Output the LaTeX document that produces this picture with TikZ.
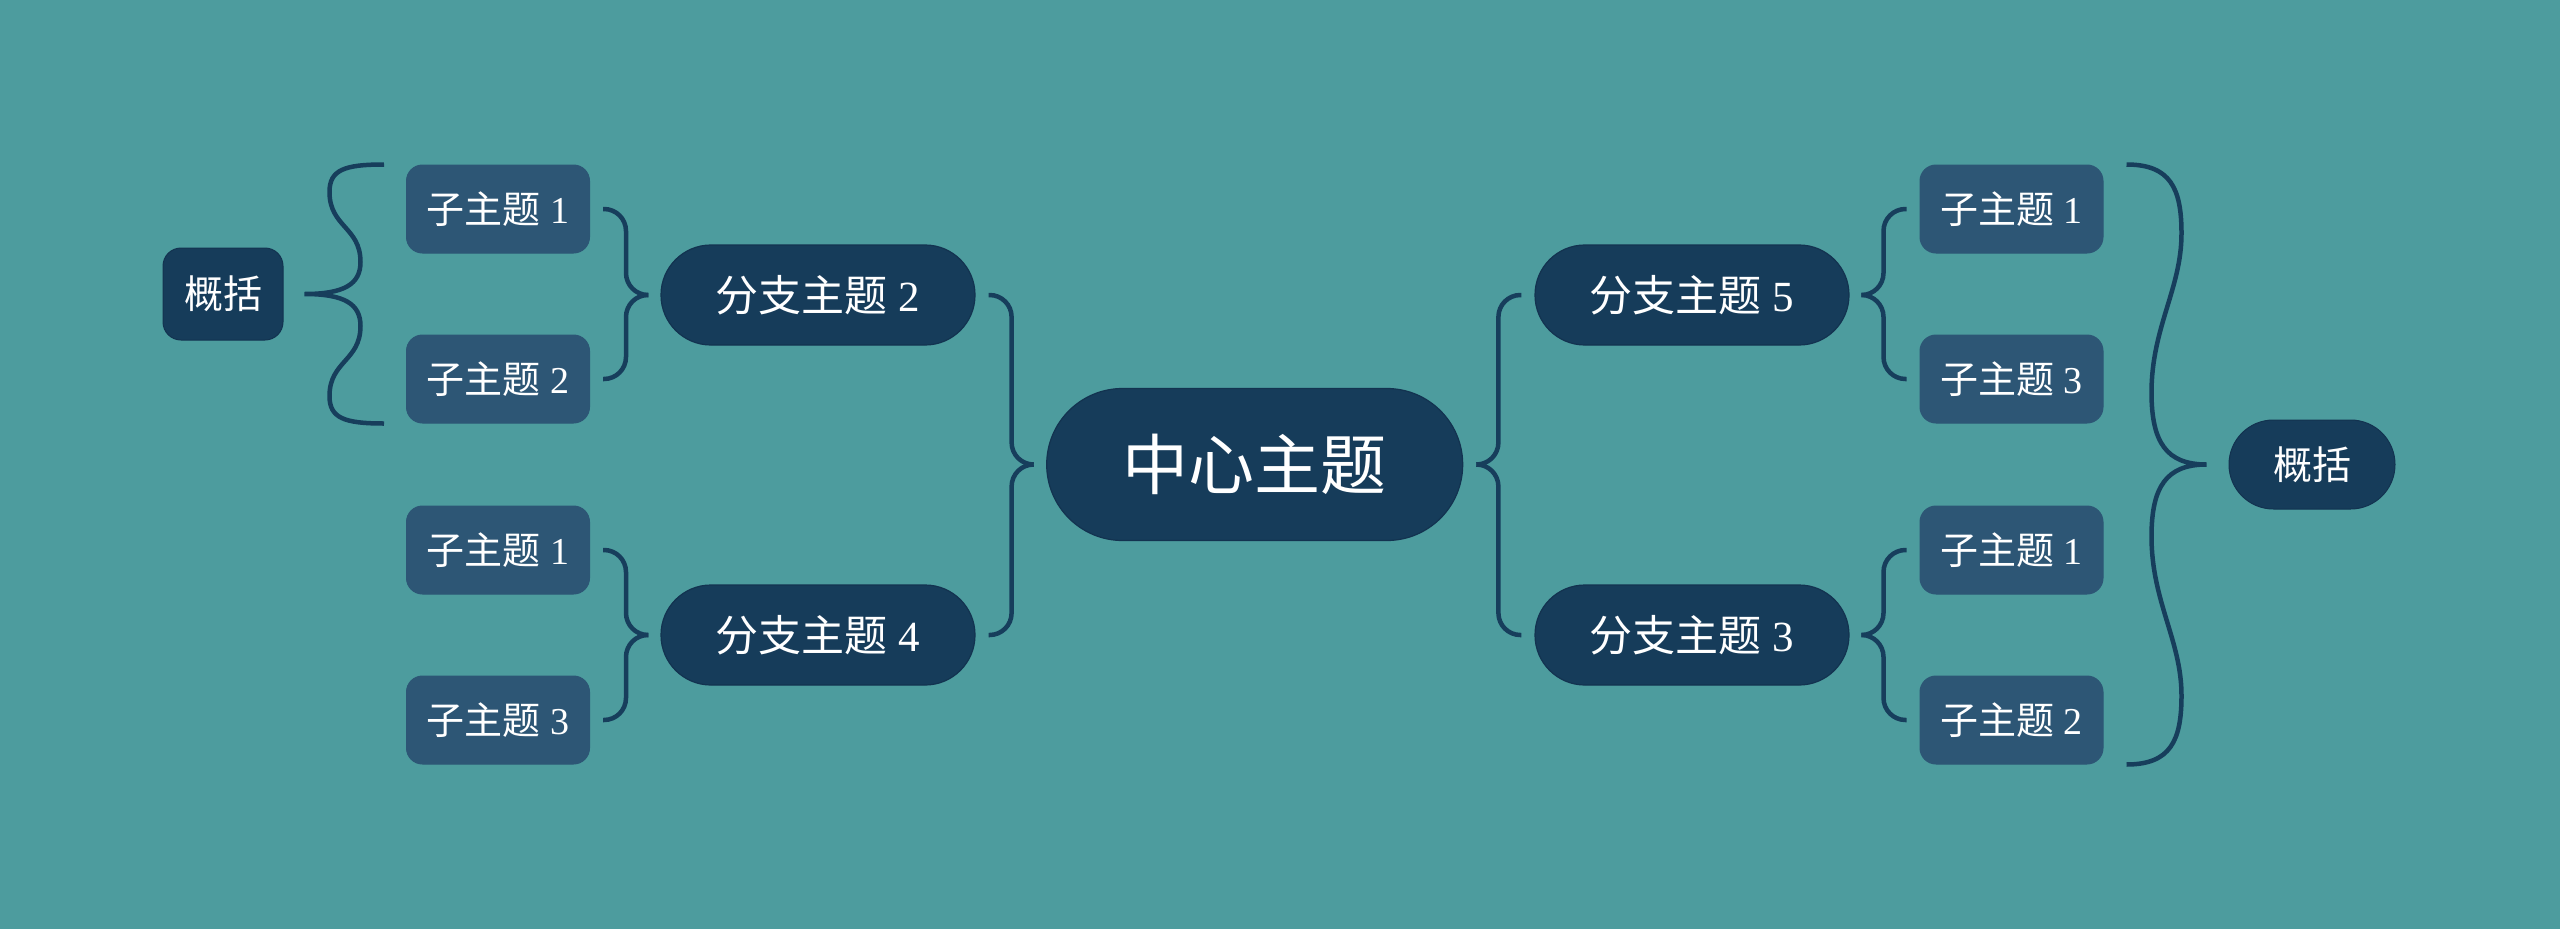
\documentclass[tikz,border=0pt]{standalone}
\usepackage{fontspec}
\setmainfont{Liberation Serif}
\newfontfamily\cjk{Noto Sans CJK SC}
\usetikzlibrary{calc}
\definecolor{bgc}{HTML}{4D9C9E}
\definecolor{navy}{HTML}{163C5A}
\definecolor{navyedge}{HTML}{133350}
\definecolor{subc}{HTML}{2D5675}
\definecolor{linec}{HTML}{173E5C}
\newcommand\zh[1]{{\cjk #1}}
\begin{document}
\begin{tikzpicture}[x=1pt,y=-1pt,
  centralnode/.style={fill=navy,draw=navyedge,line width=1.2pt,rounded corners=75.9pt,
    minimum width=416pt,minimum height=152pt,inner sep=0pt,text=white,
    font=\fontsize{66}{66}\selectfont},
  branchnode/.style={fill=navy,draw=navyedge,line width=1.2pt,rounded corners=49.9pt,
    minimum width=314pt,minimum height=100pt,inner sep=0pt,text=white,
    font=\fontsize{43}{43}\selectfont},
  subnode/.style={fill=subc,draw=subc,line width=1pt,rounded corners=16pt,
    minimum width=183pt,minimum height=88pt,inner sep=0pt,text=white,
    font=\fontsize{38}{38}\selectfont},
  sumleft/.style={fill=navy,draw=navyedge,line width=1pt,rounded corners=18pt,
    minimum width=120pt,minimum height=92pt,inner sep=0pt,text=white,
    font=\fontsize{39}{39}\selectfont},
  sumright/.style={fill=navy,draw=navyedge,line width=1pt,rounded corners=44.4pt,
    minimum width=166pt,minimum height=89pt,inner sep=0pt,text=white,
    font=\fontsize{39}{39}\selectfont},
  conn/.style={draw=linec,line width=4.5pt,rounded corners=22pt},
  bigbrace/.style={draw=linec,line width=4.5pt}
]
\fill[bgc] (0,0) rectangle (2560,929);
\useasboundingbox (0,0) rectangle (2560,929);

% nodes
\node[centralnode] (C) at (1254.7,464.5) {\zh{中心主题}};
\node[branchnode] (B2) at (818,295) {\zh{分支主题} 2};
\node[branchnode] (B4) at (818,635) {\zh{分支主题} 4};
\node[branchnode] (B5) at (1692,295) {\zh{分支主题} 5};
\node[branchnode] (B3) at (1692,635) {\zh{分支主题} 3};

\node[subnode] (L1) at (498,209) {\zh{子主题} 1};
\node[subnode] (L2) at (498,379) {\zh{子主题} 2};
\node[subnode] (L3) at (498,550) {\zh{子主题} 1};
\node[subnode] (L4) at (498,720) {\zh{子主题} 3};

\node[subnode] (R1) at (2011.5,209) {\zh{子主题} 1};
\node[subnode] (R2) at (2011.5,379) {\zh{子主题} 3};
\node[subnode] (R3) at (2011.5,550) {\zh{子主题} 1};
\node[subnode] (R4) at (2011.5,720) {\zh{子主题} 2};

\node[sumleft] (SL) at (223,294) {\zh{概括}};
\node[sumright] (SR) at (2312,464.5) {\zh{概括}};

% central braces
\draw[conn] ($(B2.east)+(13,0)$) -- ($(B2.east)+(36,0)$) |- ($(C.west)+(-13,0)$);
\draw[conn] ($(B4.east)+(13,0)$) -- ($(B4.east)+(36,0)$) |- ($(C.west)+(-13,0)$);
\draw[conn] ($(B5.west)+(-13,0)$) -- ($(B5.west)+(-36,0)$) |- ($(C.east)+(13,0)$);
\draw[conn] ($(B3.west)+(-13,0)$) -- ($(B3.west)+(-36,0)$) |- ($(C.east)+(13,0)$);

% left sub braces
\draw[conn] ($(L1.east)+(13,0)$) -- ($(L1.east)+(36,0)$) |- ($(B2.west)+(-12,0)$);
\draw[conn] ($(L2.east)+(13,0)$) -- ($(L2.east)+(36,0)$) |- ($(B2.west)+(-12,0)$);
\draw[conn] ($(L3.east)+(13,0)$) -- ($(L3.east)+(36,0)$) |- ($(B4.west)+(-12,0)$);
\draw[conn] ($(L4.east)+(13,0)$) -- ($(L4.east)+(36,0)$) |- ($(B4.west)+(-12,0)$);

% right sub braces
\draw[conn] ($(R1.west)+(-13,0)$) -- ($(R1.west)+(-36,0)$) |- ($(B5.east)+(12,0)$);
\draw[conn] ($(R2.west)+(-13,0)$) -- ($(R2.west)+(-36,0)$) |- ($(B5.east)+(12,0)$);
\draw[conn] ($(R3.west)+(-13,0)$) -- ($(R3.west)+(-36,0)$) |- ($(B3.east)+(12,0)$);
\draw[conn] ($(R4.west)+(-13,0)$) -- ($(R4.west)+(-36,0)$) |- ($(B3.east)+(12,0)$);

% left summary brace
\coordinate (lbt) at ($(L1.north west)+(-22,0)$);
\coordinate (lbb) at ($(L2.south west)+(-22,0)$);
\coordinate (lbtip) at ($(SL.east)+(21,0)$);
\coordinate (lp1) at ($(lbtip)+(25,-102)$);
\coordinate (lp2) at ($(lbtip)+(56,-32)$);
\coordinate (lp3) at ($(lbtip)+(56,32)$);
\coordinate (lp4) at ($(lbtip)+(25,102)$);
\draw[bigbrace] (lbt) .. controls +(-40,0) and +(0,-22) .. (lp1)
  .. controls +(0,35) and +(0,-35) .. (lp2)
  .. controls +(0,22) and +(40,0) .. (lbtip)
  .. controls +(40,0) and +(0,-22) .. (lp3)
  .. controls +(0,35) and +(0,-35) .. (lp4)
  .. controls +(0,22) and +(-40,0) .. (lbb);

% right summary brace
\coordinate (rbt) at ($(R1.north east)+(23,0)$);
\coordinate (rbb) at ($(R4.south east)+(23,0)$);
\coordinate (rbtip) at ($(SR.west)+(-22,0)$);
\coordinate (rp1) at ($(rbtip)+(-25,-231)$);
\coordinate (rp2) at ($(rbtip)+(-55,-72)$);
\coordinate (rp3) at ($(rbtip)+(-55,72)$);
\coordinate (rp4) at ($(rbtip)+(-25,231)$);
\draw[bigbrace] (rbt) .. controls +(44,0) and +(0,-45) .. (rp1)
  .. controls +(0,55) and +(0,-65) .. (rp2)
  .. controls +(0,50) and +(-40,0) .. (rbtip)
  .. controls +(-40,0) and +(0,-50) .. (rp3)
  .. controls +(0,65) and +(0,-55) .. (rp4)
  .. controls +(0,45) and +(44,0) .. (rbb);
\end{tikzpicture}
\end{document}
